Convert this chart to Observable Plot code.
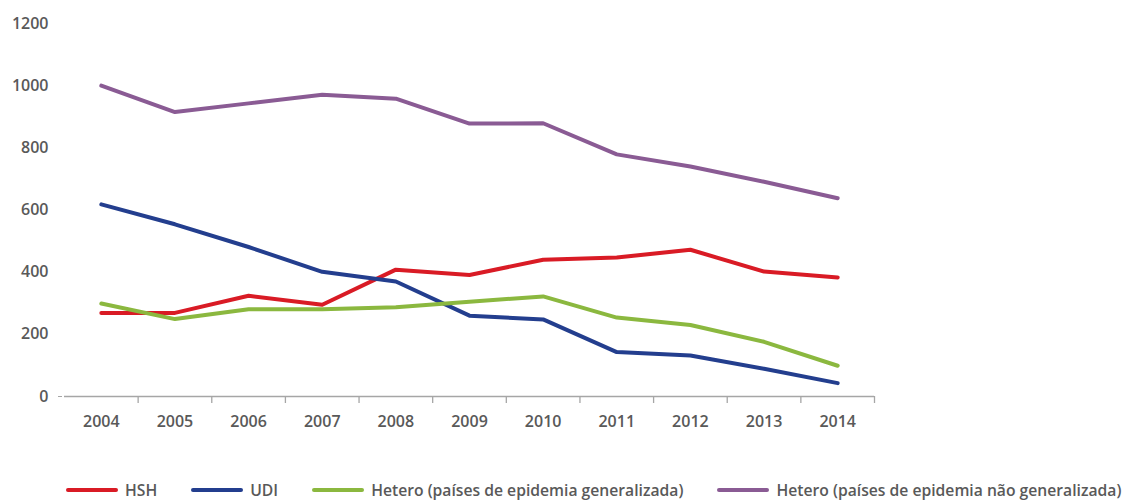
<!DOCTYPE html>
<html>
<head>
<meta charset="utf-8">
<script src="https://cdn.jsdelivr.net/npm/d3@7"></script>
<script src="https://cdn.jsdelivr.net/npm/@observablehq/plot@0.6"></script>
<style>
  html, body { margin: 0; padding: 0; background: #fff; }
  body { width: 1128px; height: 500px; overflow: hidden; font-family: "Open Sans", sans-serif; }
  #chart svg { display: block; }
  .legend { display: flex; align-items: center; margin-top: 40px; padding-left: 66px; height: 20px;
            font: 600 15.7px "Open Sans", sans-serif; color: #595959; white-space: nowrap; }
  .legend .item { display: flex; align-items: center; margin-right: 34px; }
  .legend .sw { width: 52px; height: 4px; border-radius: 2px; margin-right: 7px; }
</style>
</head>
<body>
<div id="chart"></div>
<div class="legend" id="legend"></div>
<script>
const years = [2004, 2005, 2006, 2007, 2008, 2009, 2010, 2011, 2012, 2013, 2014];
const seriesNames = ["HSH", "UDI", "Hetero (países de epidemia generalizada)", "Hetero (países de epidemia não generalizada)"];
const seriesColors = ["#d91b25", "#233e8e", "#8bb83f", "#8a5b94"];
const hsh = [269, 269, 324, 295, 408, 391, 440, 447, 472, 402, 383];
const udi = [618, 554, 481, 401, 370, 260, 248, 143, 132, 89, 43];
const heteroGen = [299, 249, 281, 281, 287, 305, 322, 254, 230, 176, 99];
const heteroNaoGen = [1000, 915, 943, 971, 958, 878, 879, 779, 740, 691, 638];
const yTicks = [0, 200, 400, 600, 800, 1000, 1200];

const seriesValues = [hsh, udi, heteroGen, heteroNaoGen];
const data = seriesNames.flatMap((name, i) =>
  years.map((year, j) => ({series: name, year, value: seriesValues[i][j]})));
const bandEdges = years.map(y => y + 0.5);

const textColor = "#595959";
const axisColor = "#a6a6a6";

const chart = Plot.plot({
  width: 1128,
  height: 440,
  marginTop: 23,
  marginBottom: 44,
  marginLeft: 64,
  marginRight: 254,
  style: {fontFamily: "Open Sans, sans-serif", fontSize: "16px", fontWeight: 600, color: textColor, background: "#fff"},
  x: {domain: [years[0] - 0.5, years[years.length - 1] + 0.5]},
  y: {domain: [0, 1200]},
  color: {domain: seriesNames, range: seriesColors},
  marks: [
    Plot.axisY(yTicks, {tickSize: 0, tickPadding: 16, tickFormat: d => String(d), label: null, fill: textColor, fontSize: 16}),
    Plot.axisY([0], {tickSize: 4, tickFormat: () => "", stroke: axisColor, dx: -2, label: null}),
    Plot.ruleY([0], {stroke: axisColor, strokeWidth: 1.5}),
    Plot.axisX(bandEdges, {tickSize: 7, tickFormat: () => "", stroke: axisColor, strokeWidth: 1.3, label: null}),
    Plot.axisX(years, {tickSize: 0, tickPadding: 19, tickFormat: d => String(d), label: null, fill: textColor, fontSize: 16}),
    Plot.line(data, {x: "year", y: "value", z: "series", stroke: "series", strokeWidth: 4,
                     strokeLinecap: "round", strokeLinejoin: "round"})
  ]
});
document.getElementById("chart").appendChild(chart);

const legend = document.getElementById("legend");
seriesNames.forEach((name, i) => {
  const item = document.createElement("div");
  item.className = "item";
  const sw = document.createElement("span");
  sw.className = "sw";
  sw.style.background = seriesColors[i];
  const label = document.createElement("span");
  label.textContent = name;
  item.appendChild(sw);
  item.appendChild(label);
  legend.appendChild(item);
});
</script>
</body>
</html>
